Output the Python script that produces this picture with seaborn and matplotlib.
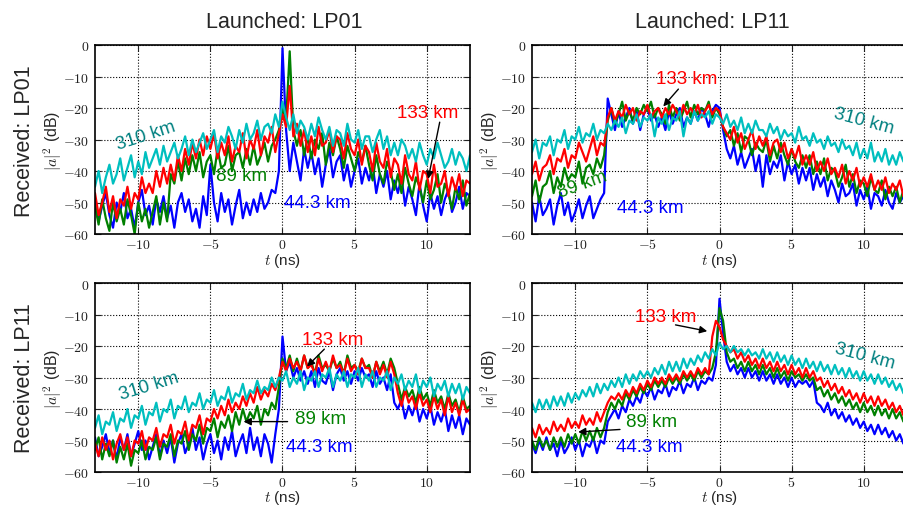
import numpy as np
import pandas as pd
import matplotlib
matplotlib.use("Agg")
import matplotlib.pyplot as plt
import seaborn as sns
from matplotlib.ticker import FuncFormatter

# ---------------- data (dB values, 0.25 ns sampling) ----------------
t_ns = np.linspace(-13, 13, 105)
distances = ["44.3 km", "89 km", "133 km", "310 km"]
line_colors = ["#0000ff", "#008000", "#ff0000", "#00bfbf"]
col_titles = ["Launched: LP01", "Launched: LP11"]
row_titles = ["Received: LP01", "Received: LP11"]
y_ticks = [-60, -50, -40, -30, -20, -10, 0]
x_ticks = [-10, -5, 0, 5, 10]

# Launched LP01 / Received LP01
A_44 = [-49,-56,-51,-47, -54,-58,-50,-53, -47,-55,-52,-58, -50,-46,-54,-51, -57,-49,-53,-48,
        -55,-51,-58,-50, -47,-53,-49,-56, -52,-58,-48,-54, -38,-50,-56,-47, -53,-49,-57,-51,
        -46,-55,-50,-54, -49,-53,-47,-52, -50,-46,-47,-40, -1,-27,-40,-31, -37,-43,-33,-39,
        -34,-41,-36,-45, -38,-33,-42,-37, -35,-43,-38,-45, -40,-36,-44,-39, -43,-38,-47,-41,
        -45,-40,-49,-43, -47,-42,-51,-45, -49,-54,-44,-51, -56,-47,-52,-48, -54,-49,-46,-53,
        -50,-45,-52,-47, -48]
A_89 = [-51,-57,-49,-55, -59,-50,-56,-52, -57,-49,-54,-60, -50,-56,-52,-58, -53,-48,-57,-50,
        -56,-41,-44,-37, -43,-36,-41,-35, -40,-34,-42,-37, -35,-41,-33,-39, -38,-32,-40,-35,
        -34,-39,-33,-38, -32,-38,-35,-31, -37,-32,-30,-27, -20,-24,-2,-27, -32,-27,-35,-29,
        -36,-30,-33,-28, -38,-31,-35,-29, -33,-39,-32,-36, -40,-34,-37,-32, -38,-43,-35,-41,
        -44,-37,-40,-46, -41,-47,-39,-44, -48,-42,-45,-50, -43,-49,-46,-41, -50,-44,-47,-52,
        -45,-49,-43,-51, -47]
A_133 = [-47,-54,-50,-45, -53,-48,-55,-49, -51,-45,-52,-47, -49,-42,-47,-44, -47,-40,-45,-39,
         -44,-38,-43,-35, -40,-33,-38,-31, -36,-30,-35,-29, -33,-28,-36,-31, -35,-29,-37,-32,
         -34,-28,-36,-30, -33,-27,-35,-29, -31,-26,-34,-28, -22,-26,-13,-29, -25,-32,-27,-34,
         -29,-35,-26,-32, -31,-27,-34,-29, -30,-36,-28,-33, -35,-30,-38,-32, -34,-40,-31,-37,
         -39,-33,-42,-36, -38,-44,-35,-41, -43,-37,-46,-40, -41,-47,-38,-45, -44,-40,-48,-42,
         -46,-41,-48,-43, -44]
A_310 = [-45,-40,-47,-42, -38,-44,-41,-36, -43,-39,-35,-42, -37,-41,-34,-39, -36,-33,-38,-32,
         -37,-34,-31,-36, -33,-29,-35,-30, -34,-31,-28,-33, -30,-27,-34,-29, -31,-26,-29,-33,
         -27,-31,-25,-30, -28,-24,-30,-26, -25,-28,-22,-26, -18,-23,-27,-22, -28,-24,-26,-30,
         -25,-29,-23,-27, -30,-26,-32,-27, -28,-32,-25,-30, -31,-27,-33,-29, -29,-34,-30,-27,
         -33,-29,-35,-31, -35,-30,-32,-36, -33,-37,-31,-35, -38,-33,-36,-31, -35,-39,-37,-33,
         -38,-34,-36,-40, -35]

# Launched LP11 / Received LP01
B_44 = [-50,-56,-48,-54, -52,-49,-57,-51, -47,-54,-50,-56, -53,-49,-55,-51, -48,-55,-52,-49,
        -47,-17,-22,-27, -21,-26,-23,-20, -25,-21,-27,-22, -20,-24,-22,-26, -23,-27,-21,-25,
        -22,-20,-26,-23, -25,-21,-24,-20, -22,-26,-21,-19, -20,-27,-33,-36, -32,-38,-34,-39,
        -36,-33,-40,-35, -45,-35,-41,-37, -39,-35,-43,-37, -41,-38,-44,-39, -43,-39,-46,-41,
        -45,-42,-48,-43, -46,-50,-44,-48, -47,-44,-51,-46, -49,-45,-52,-47, -48,-51,-46,-50,
        -52,-47,-50,-48, -50]
B_89 = [-48,-43,-50,-45, -44,-40,-47,-42, -45,-39,-43,-41, -42,-37,-44,-39, -38,-41,-36,-39,
        -35,-24,-20,-25, -22,-18,-24,-21, -24,-20,-22,-19, -21,-18,-23,-20, -22,-25,-19,-23,
        -20,-24,-21,-18, -23,-19,-22,-20, -21,-18,-23,-20, -22,-26,-29,-27, -32,-28,-34,-29,
        -30,-35,-31,-33, -34,-30,-37,-32, -36,-31,-35,-38, -33,-37,-39,-35, -39,-35,-41,-37,
        -41,-36,-43,-39, -40,-45,-42,-38, -45,-41,-47,-43, -44,-48,-42,-46, -47,-43,-49,-45,
        -48,-45,-50,-46, -47]
B_133 = [-41,-37,-43,-39, -38,-35,-41,-36, -37,-33,-39,-35, -36,-31,-34,-37, -33,-29,-35,-31,
         -32,-23,-20,-24, -21,-23,-19,-22, -20,-24,-21,-22, -19,-23,-21,-20, -23,-20,-22,-19,
         -21,-23,-19,-22, -20,-22,-19,-23, -21,-19,-22,-20, -21,-26,-28,-30, -26,-31,-28,-33,
         -30,-27,-33,-29, -32,-29,-35,-31, -30,-34,-31,-36, -33,-36,-32,-38, -35,-38,-34,-40,
         -37,-40,-36,-41, -39,-42,-38,-44, -40,-43,-39,-45, -42,-45,-41,-46, -43,-46,-42,-47,
         -44,-46,-43,-48, -45]
B_310 = [-34,-30,-36,-31, -32,-29,-35,-30, -31,-27,-33,-29, -30,-26,-31,-28, -29,-25,-30,-27,
         -28,-25,-27,-24, -26,-23,-28,-24, -25,-22,-26,-23, -24,-22,-29,-23, -25,-22,-27,-23,
         -24,-21,-29,-23, -25,-21,-24,-22, -23,-21,-25,-22, -23,-25,-22,-26, -24,-27,-23,-28,
         -25,-28,-24,-27, -27,-29,-25,-28, -26,-30,-27,-29, -28,-31,-26,-30, -29,-32,-28,-31,
         -30,-33,-29,-32, -31,-34,-30,-33, -32,-35,-31,-36, -33,-36,-31,-37, -34,-37,-33,-38,
         -35,-38,-34,-37, -36]

# Launched LP01 / Received LP11
C_44 = [-49,-55,-52,-48, -54,-50,-56,-49, -53,-48,-55,-51, -47,-53,-50,-56, -52,-48,-55,-50,
        -54,-49,-57,-51, -48,-54,-51,-46, -53,-49,-56,-51, -48,-54,-50,-56, -49,-53,-47,-55,
        -51,-48,-54,-46, -53,-49,-55,-48, -51,-57,-48,-40, -17,-28,-25,-30, -27,-31,-28,-32,
        -28,-33,-27,-31, -32,-28,-34,-29, -27,-31,-28,-32, -28,-31,-27,-30, -29,-33,-28,-32,
        -30,-34,-29,-38, -40,-37,-43,-39, -42,-38,-44,-40, -43,-39,-45,-41, -44,-40,-47,-42,
        -46,-42,-48,-43, -45]
C_89 = [-53,-49,-56,-51, -55,-50,-57,-52, -56,-51,-58,-53, -54,-50,-56,-52, -53,-49,-56,-51,
        -52,-48,-55,-50, -51,-47,-53,-48, -50,-45,-51,-46, -47,-43,-49,-44, -46,-42,-47,-41,
        -45,-40,-44,-41, -43,-39,-45,-40, -42,-38,-40,-33, -24,-27,-23,-28, -24,-28,-23,-27,
        -25,-29,-23,-27, -26,-28,-24,-27, -25,-29,-23,-27, -26,-28,-24,-27, -26,-30,-25,-28,
        -25,-29,-24,-27, -32,-37,-33,-36, -34,-38,-33,-37, -35,-39,-34,-38, -36,-40,-35,-39,
        -37,-41,-36,-40, -39]
C_133 = [-51,-55,-49,-53, -50,-56,-51,-48, -53,-49,-55,-50, -51,-47,-53,-49, -50,-46,-52,-48,
         -49,-45,-51,-47, -48,-44,-50,-45, -46,-42,-48,-43, -44,-40,-43,-39, -42,-37,-41,-38,
         -40,-36,-39,-35, -38,-33,-37,-34, -36,-32,-34,-30, -25,-28,-24,-27, -25,-28,-23,-27,
         -26,-29,-24,-28, -25,-28,-23,-27, -26,-29,-24,-28, -26,-29,-24,-27, -27,-30,-25,-29,
         -26,-30,-25,-29, -35,-39,-34,-38, -36,-40,-35,-39, -37,-41,-36,-40, -37,-42,-36,-41,
         -38,-42,-37,-41, -40]
C_310 = [-46,-42,-48,-44, -45,-41,-47,-43, -44,-40,-46,-42, -43,-39,-45,-41, -42,-38,-44,-40,
         -41,-37,-43,-39, -40,-36,-41,-38, -39,-35,-40,-37, -38,-34,-39,-36, -37,-33,-38,-35,
         -36,-32,-37,-34, -35,-31,-35,-33, -34,-30,-33,-30, -31,-28,-33,-30, -32,-28,-34,-30,
         -31,-28,-33,-29, -30,-27,-33,-29, -31,-28,-33,-29, -30,-27,-33,-29, -31,-28,-33,-30,
         -31,-28,-34,-30, -32,-29,-34,-31, -33,-29,-35,-31, -33,-30,-36,-32, -34,-31,-36,-32,
         -35,-32,-37,-33, -35]

# Launched LP11 / Received LP11
D_44 = [-51,-54,-50,-53, -49,-53,-51,-55, -50,-54,-52,-49, -53,-50,-55,-51, -52,-49,-54,-50,
        -51,-44,-42,-40, -43,-39,-41,-37, -39,-36,-38,-34, -36,-33,-37,-34, -35,-32,-36,-33,
        -34,-31,-35,-32, -33,-30,-34,-31, -32,-30,-31,-26, -5,-16,-25,-28, -26,-29,-27,-30,
        -27,-30,-28,-31, -28,-31,-29,-32, -29,-32,-30,-33, -30,-33,-31,-32, -31,-33,-31,-38,
        -39,-41,-38,-42, -40,-43,-41,-44, -42,-45,-43,-46, -44,-47,-45,-48, -45,-48,-46,-49,
        -47,-50,-48,-51, -49]
D_89 = [-50,-53,-49,-52, -50,-53,-49,-52, -49,-52,-48,-51, -48,-51,-47,-50, -47,-50,-46,-49,
        -46,-41,-38,-40, -37,-39,-35,-37, -34,-36,-33,-35, -32,-34,-31,-33, -31,-33,-30,-32,
        -30,-32,-29,-31, -29,-31,-28,-30, -28,-29,-27,-22, -8,-12,-22,-25, -24,-27,-25,-28,
        -25,-28,-26,-29, -26,-29,-27,-30, -27,-30,-28,-31, -28,-30,-29,-31, -29,-31,-30,-34,
        -33,-36,-34,-37, -35,-38,-36,-39, -37,-40,-38,-41, -38,-41,-39,-42, -39,-42,-40,-43,
        -40,-43,-41,-44, -42]
D_133 = [-46,-49,-45,-48, -46,-48,-44,-47, -45,-47,-43,-46, -44,-46,-42,-45, -43,-45,-41,-44,
         -41,-38,-36,-37, -35,-37,-34,-36, -33,-35,-32,-34, -31,-33,-30,-32, -30,-32,-29,-31,
         -29,-31,-28,-30, -28,-30,-27,-29, -27,-29,-17,-12, -14,-18,-20,-22, -21,-24,-22,-25,
         -23,-26,-24,-27, -24,-27,-25,-28, -25,-28,-26,-29, -26,-29,-27,-30, -27,-30,-28,-31,
         -30,-33,-31,-34, -32,-35,-33,-36, -34,-37,-35,-38, -35,-38,-36,-39, -36,-39,-37,-40,
         -38,-41,-39,-42, -40]
D_310 = [-38,-41,-37,-40, -37,-40,-36,-39, -36,-39,-35,-38, -35,-37,-34,-36, -33,-36,-32,-35,
         -32,-34,-31,-33, -30,-33,-29,-32, -29,-31,-28,-30, -28,-30,-27,-29, -26,-29,-25,-28,
         -25,-28,-24,-27, -24,-26,-23,-25, -22,-24,-21,-23, -19,-21,-20,-22, -20,-22,-21,-23,
         -21,-23,-22,-24, -21,-24,-22,-25, -22,-25,-23,-26, -23,-26,-24,-27, -24,-27,-25,-28,
         -25,-28,-26,-29, -26,-29,-27,-30, -27,-30,-28,-31, -28,-31,-29,-32, -29,-32,-30,-33,
         -31,-34,-32,-35, -33]

panel_series = {
    (0, 0): [A_44, A_89, A_133, A_310],
    (0, 1): [B_44, B_89, B_133, B_310],
    (1, 0): [C_44, C_89, C_133, C_310],
    (1, 1): [D_44, D_89, D_133, D_310],
}
for key, lst in panel_series.items():
    for i, s in enumerate(lst):
        if len(s) != len(t_ns):
            raise ValueError(f"panel {key} series {i} has {len(s)} values")

# ---------------- style ----------------
sns.set_theme(style="white")
plt.rcParams["font.family"] = ["Liberation Sans", "DejaVu Sans"]
plt.rcParams["mathtext.fontset"] = "cm"

W, H = 904, 506
fig = plt.figure(figsize=(W / 100, H / 100), dpi=100)

col_left = [95 / W, 532 / W]
ax_w = 375 / W
row_bottom = [1 - 235 / H, 1 - 473 / H]
ax_h = 189 / H

lab_red, lab_green, lab_blue, lab_teal = "#ff0000", "#008000", "#0000ff", "#008080"
fs_lab = 13.5

def texts_for(ax, key):
    ar = dict(arrowstyle="-|>", color="black", lw=1.0, mutation_scale=11, shrinkA=0, shrinkB=0)
    if key == (0, 0):
        ax.text(-9.5, -28.5, "310 km", color=lab_teal, fontsize=fs_lab, rotation=18, ha="center", va="center")
        ax.text(-2.85, -41.5, "89 km", color=lab_green, fontsize=fs_lab, ha="center", va="center")
        ax.text(2.4, -50, "44.3 km", color=lab_blue, fontsize=fs_lab, ha="center", va="center")
        ax.text(10.1, -21.5, "133 km", color=lab_red, fontsize=fs_lab, ha="center", va="center")
        ax.annotate("", xy=(10.1, -42.5), xytext=(10.9, -24.5), arrowprops=ar)
    elif key == (0, 1):
        ax.text(-2.3, -10.5, "133 km", color=lab_red, fontsize=fs_lab, ha="center", va="center")
        ax.annotate("", xy=(-3.9, -19.5), xytext=(-2.85, -14), arrowprops=ar)
        ax.text(-9.5, -44, "89 km", color=lab_green, fontsize=fs_lab, rotation=20, ha="center", va="center")
        ax.text(-4.8, -51.5, "44.3 km", color=lab_blue, fontsize=fs_lab, ha="center", va="center")
        ax.text(10.0, -24, "310 km", color=lab_teal, fontsize=fs_lab, rotation=-15, ha="center", va="center")
    elif key == (1, 0):
        ax.text(-9.25, -32.5, "310 km", color=lab_teal, fontsize=fs_lab, rotation=17, ha="center", va="center")
        ax.text(3.5, -17.8, "133 km", color=lab_red, fontsize=fs_lab, ha="center", va="center")
        ax.annotate("", xy=(1.7, -26.5), xytext=(2.9, -21), arrowprops=ar)
        ax.text(2.65, -43, "89 km", color=lab_green, fontsize=fs_lab, ha="center", va="center")
        ax.annotate("", xy=(-2.7, -44), xytext=(0.35, -44), arrowprops=ar)
        ax.text(2.55, -52, "44.3 km", color=lab_blue, fontsize=fs_lab, ha="center", va="center")
    else:
        ax.text(-3.75, -10.5, "133 km", color=lab_red, fontsize=fs_lab, ha="center", va="center")
        ax.annotate("", xy=(-0.85, -15.3), xytext=(-3.05, -13.3), arrowprops=ar)
        ax.text(-4.7, -44, "89 km", color=lab_green, fontsize=fs_lab, ha="center", va="center")
        ax.annotate("", xy=(-9.8, -47.3), xytext=(-6.9, -46.5), arrowprops=ar)
        ax.text(-4.85, -52, "44.3 km", color=lab_blue, fontsize=fs_lab, ha="center", va="center")
        ax.text(10.1, -23, "310 km", color=lab_teal, fontsize=fs_lab, rotation=-15, ha="center", va="center")

mfmt = FuncFormatter(lambda v, p: "$%d$" % int(round(v)) if v != 0 else "$0$")

for (r, c), series in panel_series.items():
    ax = fig.add_axes([col_left[c], row_bottom[r], ax_w, ax_h])
    frames = []
    for name, vals in zip(distances, series):
        frames.append(pd.DataFrame({"t": t_ns, "dB": vals, "distance": name}))
    df = pd.concat(frames, ignore_index=True)
    sns.lineplot(data=df, x="t", y="dB", hue="distance", hue_order=distances,
                 palette=line_colors, estimator=None, sort=False, legend=False,
                 linewidth=1.6, ax=ax)
    ax.set_xlim(-13, 13)
    ax.set_ylim(-60, 0)
    ax.set_xticks(x_ticks)
    ax.set_yticks(y_ticks)
    ax.xaxis.set_major_formatter(mfmt)
    ax.yaxis.set_major_formatter(mfmt)
    ax.tick_params(axis="both", which="both", direction="in", length=4, width=0.8,
                   labelsize=10, colors="#222222", top=True, right=True, bottom=True, left=True)
    ax.tick_params(axis="x", pad=2)
    ax.tick_params(axis="y", pad=4)
    ax.grid(True, linestyle=":", color="black", linewidth=0.8)
    for sp in ax.spines.values():
        sp.set_visible(True)
        sp.set_color("black")
        sp.set_linewidth(1.2)
    ax.set_xlabel("$t$ (ns)", fontsize=11)
    ax.set_ylabel("$|a|^2$ (dB)", fontsize=11.5)
    ax.xaxis.label.set_va("center")
    ax.yaxis.label.set_va("center")
    ax.xaxis.set_label_coords(0.5, -0.14 if r == 0 else -0.134)
    ax.yaxis.set_label_coords(-0.113, 0.5)
    texts_for(ax, (r, c))

fig.text(284 / W, 1 - 23 / H, col_titles[0], fontsize=15.5, ha="center", va="center")
fig.text(712 / W, 1 - 23 / H, col_titles[1], fontsize=15.5, ha="center", va="center")
fig.text(25 / W, 1 - 141 / H, row_titles[0], fontsize=15.5, rotation=90, ha="center", va="center")
fig.text(25 / W, 1 - 378 / H, row_titles[1], fontsize=15.5, rotation=90, ha="center", va="center")

fig.savefig("out.png", dpi=100)
